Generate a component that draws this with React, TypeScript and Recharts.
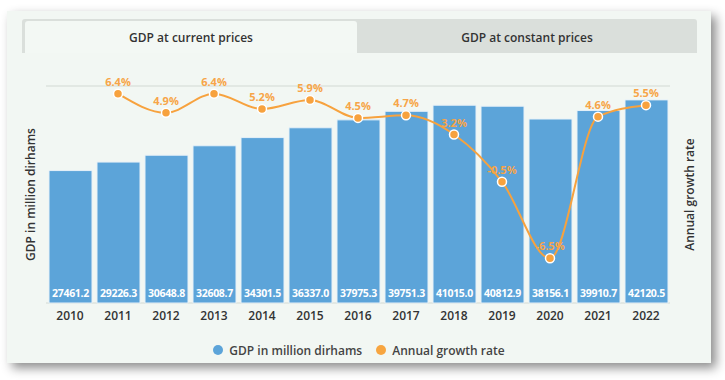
import React from "react";
import {
  ComposedChart,
  Bar,
  Line,
  XAxis,
  YAxis,
  CartesianGrid,
  LabelList,
} from "recharts";

const years = ["2010", "2011", "2012", "2013", "2014", "2015", "2016", "2017", "2018", "2019", "2020", "2021", "2022"];
const gdp = [27461.2, 29226.3, 30648.8, 32608.7, 34301.5, 36337.0, 37975.3, 39751.3, 41015.0, 40812.9, 38156.1, 39910.7, 42120.5];
const growth = [null, 6.4, 4.9, 6.4, 5.2, 5.9, 4.5, 4.7, 3.2, -0.5, -6.5, 4.6, 5.5];
const gdpTicks = [0, 5000, 10000, 15000, 20000, 25000, 30000, 35000, 40000, 45000];

const BLUE = "#5ca4d9";
const ORANGE = "#f7a23e";
const FONT = "'Open Sans', 'Noto Sans', sans-serif";

export default function App() {
  // table for recharts
  const data = years.map((y, i) => ({ year: y, gdp: gdp[i], growth: growth[i] }));

  return (
    <div style={{ position: "absolute", left: 0, top: 0, width: 725, height: 380, background: "#fff", fontFamily: FONT }}>
      {/* card */}
      <div
        style={{
          position: "absolute",
          left: 7,
          top: 11,
          width: 704,
          height: 352,
          background: "#f2f7f3",
          boxShadow: "5px 5px 10px rgba(0,0,0,0.45)",
        }}
      />

      {/* tabs */}
      <div style={{ position: "absolute", left: 22, top: 19, width: 675, height: 34, background: "#dadfdb", borderRadius: "3px 3px 0 0" }} />
      <div
        style={{
          position: "absolute",
          left: 25,
          top: 21,
          width: 332,
          height: 32,
          background: "#f3f8f4",
          borderRadius: "3px 3px 0 0",
          display: "flex",
          alignItems: "center",
          justifyContent: "center",
          fontSize: 12,
          fontWeight: 600,
          color: "#333",
        }}
      >
        GDP at current prices
      </div>
      <div
        style={{
          position: "absolute",
          left: 357,
          top: 21,
          width: 340,
          height: 32,
          display: "flex",
          alignItems: "center",
          justifyContent: "center",
          fontSize: 12,
          fontWeight: 600,
          color: "#333",
        }}
      >
        GDP at constant prices
      </div>

      <div style={{ position: "absolute", left: 0, top: 0 }}>
        <ComposedChart
          width={725}
          height={380}
          data={data}
          margin={{ top: 86, right: 15, bottom: 47, left: 16 }}
        >
          <CartesianGrid vertical={false} stroke="#dce3de" strokeWidth={1.5} yAxisId="left" />
          <XAxis
            dataKey="year"
            height={30}
            axisLine={false}
            tickLine={false}
            tick={{ fill: "#333", fontSize: 12, fontWeight: 600, fontFamily: FONT }}
          />
          <YAxis
            yAxisId="left"
            width={30}
            domain={[0, 45000]}
            ticks={gdpTicks}
            tick={false}
            axisLine={false}
            tickLine={false}
            label={{
              value: "GDP in million dirhams",
              angle: -90,
              position: "center",
              fill: "#333",
              fontSize: 12,
              fontWeight: 600,
              fontFamily: FONT,
            }}
          />
          <YAxis
            yAxisId="right"
            orientation="right"
            width={40}
            domain={[-10, 7]}
            tick={false}
            axisLine={false}
            tickLine={false}
            label={{
              value: "Annual growth rate",
              angle: -90,
              position: "center",
              fill: "#333",
              fontSize: 12,
              fontWeight: 600,
              fontFamily: FONT,
            }}
          />
          <Bar yAxisId="left" dataKey="gdp" fill={BLUE} stroke="#e6f1f8" strokeWidth={1} barSize={43} isAnimationActive={false}>
            <LabelList
              dataKey="gdp"
              position="insideBottom"
              offset={6}
              formatter={(v: any) => Number(v).toFixed(1)}
              style={{ fill: "#fff", fontSize: 10.5, fontWeight: 700, fontFamily: FONT, letterSpacing: -0.3 }}
            />
          </Bar>
          <Line
            yAxisId="right"
            type="monotone"
            dataKey="growth"
            stroke={ORANGE}
            strokeWidth={2}
            dot={{ r: 4.5, fill: ORANGE, stroke: "#fff", strokeWidth: 1.5 }}
            activeDot={false}
            isAnimationActive={false}
          >
            <LabelList
              dataKey="growth"
              position="top"
              offset={8}
              formatter={(v: any) => (v == null ? "" : `${v}%`)}
              style={{ fill: "#f7a548", fontSize: 11, fontWeight: 700, fontFamily: FONT }}
            />
          </Line>
        </ComposedChart>
      </div>

      {/* legend */}
      <div
        style={{
          position: "absolute",
          left: 7,
          width: 704,
          top: 342,
          height: 16,
          display: "flex",
          alignItems: "center",
          justifyContent: "center",
          fontSize: 12,
          fontWeight: 600,
          color: "#444",
        }}
      >
        <span style={{ width: 10, height: 10, borderRadius: 5, background: BLUE, marginRight: 6 }} />
        <span style={{ marginRight: 14 }}>GDP in million dirhams</span>
        <span style={{ width: 10, height: 10, borderRadius: 5, background: "#f7a540", marginRight: 6 }} />
        <span>Annual growth rate</span>
      </div>
    </div>
  );
}
